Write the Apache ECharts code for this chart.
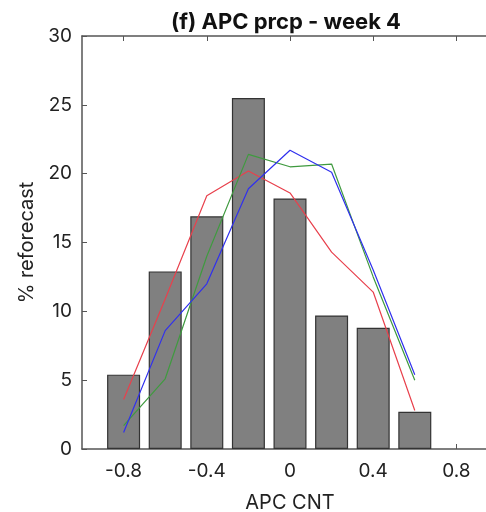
<!DOCTYPE html>
<html><head><meta charset="utf-8">
<script src="https://cdn.jsdelivr.net/npm/echarts@6/dist/echarts.min.js"></script>
<style>html,body{margin:0;padding:0;background:#fff}#c{width:486px;height:512px}</style>
</head><body><div id="c"></div>
<script>
const categories = [-0.8, -0.6, -0.4, -0.2, 0, 0.2, 0.4, 0.6];
const barValues = [5.4, 12.9, 16.9, 25.5, 18.2, 9.7, 8.8, 2.7];
const redValues = [3.6, 10.9, 18.4, 20.2, 18.6, 14.3, 11.4, 2.8];
const blueValues = [1.2, 8.6, 12.0, 18.9, 21.7, 20.1, 13.0, 5.4];
const greenValues = [1.7, 5.1, 14.0, 21.4, 20.5, 20.7, 12.5, 5.0];
const xTicks = [-0.8, -0.4, 0, 0.4, 0.8];
const yTicks = [0, 5, 10, 15, 20, 25, 30];
const titleText = '(f) APC prcp - week 4';

const pair = arr => categories.map((c, i) => [c, arr[i]]);
const font = 'Inter, Liberation Sans, Arial, sans-serif';
const axisCol = '#555';
const chart = echarts.init(document.getElementById('c'), null, {renderer: 'canvas'});
chart.setOption({
  animation: false,
  graphic: [{type: 'text', x: 286, y: 22, silent: true,
    style: {text: titleText, align: 'center', verticalAlign: 'middle',
      font: 'bold 22px ' + font, fill: '#111'}}],
  grid: {left: 82, top: 36, right: -12, bottom: 63, outerBoundsMode: 'none', containLabel: false},
  xAxis: [{
    type: 'value', min: -1, max: 1,
    name: 'APC CNT', nameLocation: 'middle', nameGap: 44, nameTextStyle: {fontFamily: font, fontSize: 20, color: '#222'},
    axisLine: {show: true, onZero: false, lineStyle: {color: axisCol, width: 1.5}},
    axisTick: {show: true, inside: true, length: 5, lineStyle: {color: axisCol}, customValues: xTicks},
    axisLabel: {fontFamily: font, fontSize: 19, color: '#222', margin: 13,
      customValues: xTicks, formatter: v => (Math.abs(v) < 1e-9 ? '0' : String(+v.toFixed(1)))},
    splitLine: {show: false}
  }, {
    type: 'value', min: -1, max: 1, position: 'top',
    axisLine: {show: true, onZero: false, lineStyle: {color: axisCol, width: 1.5}},
    axisTick: {show: true, inside: true, length: 5, lineStyle: {color: axisCol}, customValues: xTicks},
    axisLabel: {show: false}, splitLine: {show: false}
  }],
  yAxis: {
    type: 'value', min: 0, max: 30, interval: 5,
    name: '% reforecast', nameLocation: 'middle', nameGap: 32,
    nameTextStyle: {fontFamily: font, fontSize: 20, color: '#222'},
    axisLine: {show: true, onZero: false, lineStyle: {color: axisCol, width: 1.5}},
    axisTick: {show: true, inside: true, length: 5, lineStyle: {color: axisCol}},
    axisLabel: {fontFamily: font, fontSize: 19, color: '#222', margin: 10},
    splitLine: {show: false}
  },
  series: [
    {type: 'bar', data: pair(barValues), barWidth: 33,
      itemStyle: {color: '#808080', borderColor: '#333', borderWidth: 1.2}},
    {type: 'line', data: pair(redValues), symbol: 'none', lineStyle: {color: '#e8404c', width: 1.2}},
    {type: 'line', data: pair(greenValues), symbol: 'none', lineStyle: {color: '#3f9a3f', width: 1.2}},
    {type: 'line', data: pair(blueValues), symbol: 'none', lineStyle: {color: '#3030ee', width: 1.2}}
  ]
});
</script></body></html>
